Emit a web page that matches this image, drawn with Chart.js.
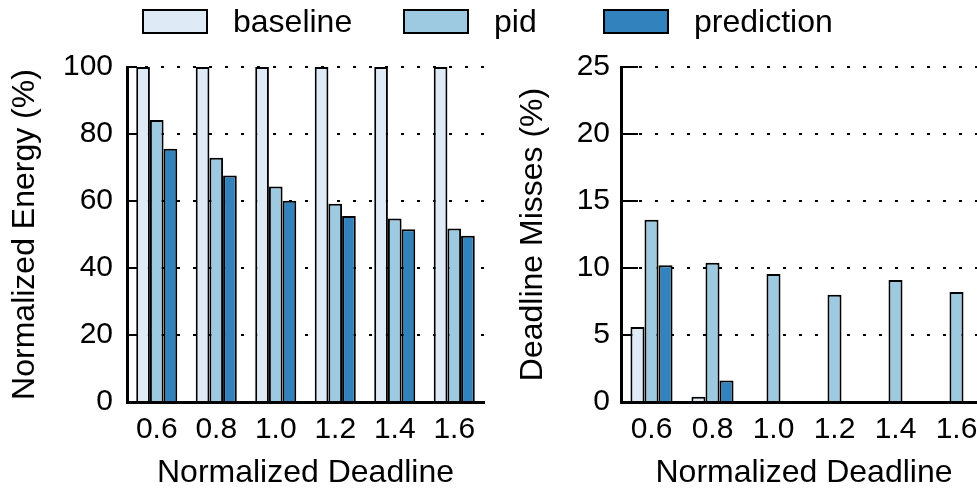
<!DOCTYPE html>
<html>
<head>
<meta charset="utf-8">
<script src="https://cdn.jsdelivr.net/npm/chart.js@4/dist/chart.umd.min.js"></script>
<style>
  html, body { margin: 0; padding: 0; background: #fff; }
  body { width: 977px; height: 496px; overflow: hidden; position: relative; font-family: "Liberation Sans", Arial, sans-serif; }
  #c1 { position: absolute; left: 0; top: 0; }
  #c2 { position: absolute; left: 500px; top: 0; }
  .leg { position: absolute; top: 0; height: 42px; display: flex; align-items: center; font-size: 32px; color: #000; white-space: nowrap; }
  .leg .box { width: 62px; height: 21px; border: 2px solid #000; margin-right: 25px; box-sizing: content-box; }
</style>
</head>
<body>
<canvas id="c1" width="490" height="496"></canvas>
<canvas id="c2" width="500" height="496"></canvas>
<div id="legend"></div>
<script>
// ---- data ----
const categories = ['0.6', '0.8', '1.0', '1.2', '1.4', '1.6'];
const seriesNames = ['baseline', 'pid', 'prediction'];
const seriesColors = ['#deebf7', '#9ecae1', '#3182bd'];

const energyBaseline   = [100, 100, 100, 100, 100, 100];
const energyPid        = [84.2, 72.9, 64.3, 59.2, 54.8, 51.8];
const energyPrediction = [75.6, 67.6, 60.1, 55.5, 51.6, 49.6];

const missBaseline   = [5.6, 0.4, 0, 0, 0, 0];
const missPid        = [13.6, 10.4, 9.55, 8.0, 9.1, 8.2];
const missPrediction = [10.2, 1.6, 0.05, 0, 0, 0];

const energyTicks = [0, 20, 40, 60, 80, 100];
const missTicks   = [0, 5, 10, 15, 20, 25];

const legendX = [142, 403, 603];

// ---- legend (HTML, built from series arrays) ----
const legendEl = document.getElementById('legend');
seriesNames.forEach((name, i) => {
  const item = document.createElement('div');
  item.className = 'leg';
  item.style.left = legendX[i] + 'px';
  const box = document.createElement('div');
  box.className = 'box';
  box.style.background = seriesColors[i];
  const txt = document.createElement('span');
  txt.textContent = name;
  item.appendChild(box);
  item.appendChild(txt);
  legendEl.appendChild(item);
});

const FONT = '"Liberation Sans", Arial, sans-serif';

const innerTicks = {
  id: 'innerTicks',
  beforeDatasetsDraw(chart, args, opts) {
    const ctx = chart.ctx;
    const y = chart.scales.y;
    const left = chart.chartArea.left;
    ctx.save();
    ctx.strokeStyle = '#000';
    ctx.lineWidth = 2;
    y.ticks.forEach(t => {
      const py = Math.round(y.getPixelForValue(t.value));
      ctx.beginPath();
      ctx.moveTo(left, py);
      ctx.lineTo(left + opts.len, py);
      ctx.stroke();
    });
    ctx.restore();
  }
};

function makeChart(id, data, yTitle, ticks, yWidth, padRight, titlePad, labelPad, tickLen) {
  return new Chart(document.getElementById(id), {
    type: 'bar',
    data: {
      labels: categories,
      datasets: data.map((d, i) => ({
        label: seriesNames[i],
        data: d,
        backgroundColor: seriesColors[i],
        borderColor: '#000',
        borderWidth: 2,
        categoryPercentage: 0.69,
        barPercentage: 1.0
      }))
    },
    options: {
      responsive: false,
      animation: false,
      devicePixelRatio: 1,
      layout: { padding: { top: 67, right: padRight, bottom: 0, left: 0 } },
      plugins: {
        legend: { display: false },
        tooltip: { enabled: false },
        innerTicks: { len: tickLen }
      },
      scales: {
        x: {
          grid: { display: false, drawTicks: false },
          border: { display: true, color: '#000', width: 3 },
          ticks: { color: '#000', font: { family: FONT, size: 30 }, padding: 10, maxRotation: 0 },
          title: { display: true, text: 'Normalized Deadline', color: '#000', font: { family: FONT, size: 32 }, padding: { top: 0, bottom: 4 } },
          afterFit: s => { s.height = 94; }
        },
        y: {
          min: ticks[0],
          max: ticks[ticks.length - 1],
          afterBuildTicks: s => { s.ticks = ticks.map(v => ({ value: v })); },
          grid: { display: true, drawTicks: false, color: '#000', lineWidth: 2 },
          border: { display: true, color: '#000', width: 3, dash: [3, 13] },
          ticks: { color: '#000', font: { family: FONT, size: 30 }, padding: labelPad },
          title: { display: true, text: yTitle, color: '#000', font: { family: FONT, size: 32 }, padding: { top: titlePad, bottom: 0 } },
          afterFit: s => { s.width = yWidth; }
        }
      }
    },
    plugins: [innerTicks]
  });
}

makeChart('c1', [energyBaseline, energyPid, energyPrediction], 'Normalized Energy (%)', energyTicks, 127, 6, 6, 14, 10);
makeChart('c2', [missBaseline, missPid, missPrediction], 'Deadline Misses (%)', missTicks, 121, 13, 14, 11, 17);
</script>
</body>
</html>
